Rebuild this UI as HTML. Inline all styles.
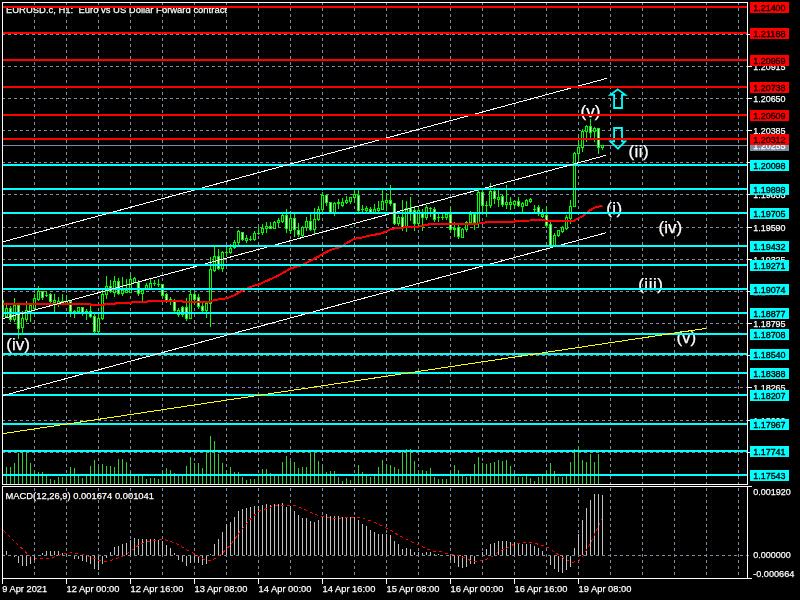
<!DOCTYPE html><html><head><meta charset="utf-8"><title>EURUSD.c H1</title>
<style>html,body{margin:0;padding:0;background:#000;overflow:hidden}svg{display:block;will-change:transform;transform:translateZ(0)}text{font-family:"Liberation Sans",sans-serif}</style></head><body>
<svg width="800" height="600" viewBox="0 0 800 600">
<rect x="0" y="0" width="800" height="600" fill="#000"/>
<defs><clipPath id="cm"><rect x="3" y="3" width="744" height="481"/></clipPath><clipPath id="ci"><rect x="3" y="487" width="744" height="91"/></clipPath></defs>
<g stroke="#7c8da0" stroke-width="1" stroke-dasharray="3 3" fill="none" shape-rendering="crispEdges">
<line x1="34.5" y1="2" x2="34.5" y2="484"/>
<line x1="34.5" y1="488" x2="34.5" y2="578"/>
<line x1="66.5" y1="2" x2="66.5" y2="484"/>
<line x1="66.5" y1="488" x2="66.5" y2="578"/>
<line x1="98.5" y1="2" x2="98.5" y2="484"/>
<line x1="98.5" y1="488" x2="98.5" y2="578"/>
<line x1="130.5" y1="2" x2="130.5" y2="484"/>
<line x1="130.5" y1="488" x2="130.5" y2="578"/>
<line x1="162.5" y1="2" x2="162.5" y2="484"/>
<line x1="162.5" y1="488" x2="162.5" y2="578"/>
<line x1="194.5" y1="2" x2="194.5" y2="484"/>
<line x1="194.5" y1="488" x2="194.5" y2="578"/>
<line x1="226.5" y1="2" x2="226.5" y2="484"/>
<line x1="226.5" y1="488" x2="226.5" y2="578"/>
<line x1="258.5" y1="2" x2="258.5" y2="484"/>
<line x1="258.5" y1="488" x2="258.5" y2="578"/>
<line x1="290.5" y1="2" x2="290.5" y2="484"/>
<line x1="290.5" y1="488" x2="290.5" y2="578"/>
<line x1="322.5" y1="2" x2="322.5" y2="484"/>
<line x1="322.5" y1="488" x2="322.5" y2="578"/>
<line x1="354.5" y1="2" x2="354.5" y2="484"/>
<line x1="354.5" y1="488" x2="354.5" y2="578"/>
<line x1="386.5" y1="2" x2="386.5" y2="484"/>
<line x1="386.5" y1="488" x2="386.5" y2="578"/>
<line x1="418.5" y1="2" x2="418.5" y2="484"/>
<line x1="418.5" y1="488" x2="418.5" y2="578"/>
<line x1="450.5" y1="2" x2="450.5" y2="484"/>
<line x1="450.5" y1="488" x2="450.5" y2="578"/>
<line x1="482.5" y1="2" x2="482.5" y2="484"/>
<line x1="482.5" y1="488" x2="482.5" y2="578"/>
<line x1="514.5" y1="2" x2="514.5" y2="484"/>
<line x1="514.5" y1="488" x2="514.5" y2="578"/>
<line x1="546.5" y1="2" x2="546.5" y2="484"/>
<line x1="546.5" y1="488" x2="546.5" y2="578"/>
<line x1="578.5" y1="2" x2="578.5" y2="484"/>
<line x1="578.5" y1="488" x2="578.5" y2="578"/>
<line x1="610.5" y1="2" x2="610.5" y2="484"/>
<line x1="610.5" y1="488" x2="610.5" y2="578"/>
<line x1="642.5" y1="2" x2="642.5" y2="484"/>
<line x1="642.5" y1="488" x2="642.5" y2="578"/>
<line x1="674.5" y1="2" x2="674.5" y2="484"/>
<line x1="674.5" y1="488" x2="674.5" y2="578"/>
<line x1="706.5" y1="2" x2="706.5" y2="484"/>
<line x1="706.5" y1="488" x2="706.5" y2="578"/>
<line x1="738.5" y1="2" x2="738.5" y2="484"/>
<line x1="738.5" y1="488" x2="738.5" y2="578"/>
<line x1="2" y1="34.5" x2="747" y2="34.5"/>
<line x1="2" y1="66.5" x2="747" y2="66.5"/>
<line x1="2" y1="98.5" x2="747" y2="98.5"/>
<line x1="2" y1="130.5" x2="747" y2="130.5"/>
<line x1="2" y1="162.5" x2="747" y2="162.5"/>
<line x1="2" y1="194.5" x2="747" y2="194.5"/>
<line x1="2" y1="227.5" x2="747" y2="227.5"/>
<line x1="2" y1="259.5" x2="747" y2="259.5"/>
<line x1="2" y1="291.5" x2="747" y2="291.5"/>
<line x1="2" y1="323.5" x2="747" y2="323.5"/>
<line x1="2" y1="355.5" x2="747" y2="355.5"/>
<line x1="2" y1="387.5" x2="747" y2="387.5"/>
<line x1="2" y1="420.5" x2="747" y2="420.5"/>
<line x1="2" y1="452.5" x2="747" y2="452.5"/>
<line x1="2" y1="555.5" x2="751" y2="555.5"/>
</g>
<text x="6" y="13" font-size="9.9" fill="#fff" stroke="#fff" stroke-width="0.25" textLength="221" lengthAdjust="spacingAndGlyphs" xml:space="preserve">EURUSD.c, H1:  Euro vs US Dollar Forward contract</text>
<rect x="3" y="145" width="744" height="1" fill="#7c8da0" shape-rendering="crispEdges"/>
<g fill="#32cd32" shape-rendering="crispEdges" clip-path="url(#cm)">
<rect x="6" y="467" width="1" height="17"/>
<rect x="10" y="467" width="1" height="17"/>
<rect x="14" y="463" width="1" height="21"/>
<rect x="18" y="453" width="1" height="31"/>
<rect x="22" y="452" width="1" height="32"/>
<rect x="26" y="452" width="1" height="32"/>
<rect x="30" y="463" width="1" height="21"/>
<rect x="34" y="470" width="1" height="14"/>
<rect x="38" y="472" width="1" height="12"/>
<rect x="42" y="472" width="1" height="12"/>
<rect x="46" y="476" width="1" height="8"/>
<rect x="50" y="479" width="1" height="5"/>
<rect x="54" y="480" width="1" height="4"/>
<rect x="58" y="477" width="1" height="7"/>
<rect x="62" y="477" width="1" height="7"/>
<rect x="66" y="476" width="1" height="8"/>
<rect x="70" y="467" width="1" height="17"/>
<rect x="74" y="468" width="1" height="16"/>
<rect x="78" y="476" width="1" height="8"/>
<rect x="82" y="478" width="1" height="6"/>
<rect x="86" y="476" width="1" height="8"/>
<rect x="90" y="466" width="1" height="18"/>
<rect x="94" y="460" width="1" height="24"/>
<rect x="98" y="467" width="1" height="17"/>
<rect x="102" y="464" width="1" height="20"/>
<rect x="106" y="466" width="1" height="18"/>
<rect x="110" y="466" width="1" height="18"/>
<rect x="114" y="467" width="1" height="17"/>
<rect x="118" y="459" width="1" height="25"/>
<rect x="122" y="459" width="1" height="25"/>
<rect x="126" y="462" width="1" height="22"/>
<rect x="130" y="472" width="1" height="12"/>
<rect x="134" y="476" width="1" height="8"/>
<rect x="138" y="476" width="1" height="8"/>
<rect x="142" y="476" width="1" height="8"/>
<rect x="146" y="479" width="1" height="5"/>
<rect x="150" y="478" width="1" height="6"/>
<rect x="154" y="478" width="1" height="6"/>
<rect x="158" y="479" width="1" height="5"/>
<rect x="162" y="471" width="1" height="13"/>
<rect x="166" y="468" width="1" height="16"/>
<rect x="170" y="470" width="1" height="14"/>
<rect x="174" y="473" width="1" height="11"/>
<rect x="178" y="476" width="1" height="8"/>
<rect x="182" y="476" width="1" height="8"/>
<rect x="186" y="466" width="1" height="18"/>
<rect x="190" y="457" width="1" height="27"/>
<rect x="194" y="463" width="1" height="21"/>
<rect x="198" y="463" width="1" height="21"/>
<rect x="202" y="468" width="1" height="16"/>
<rect x="206" y="452" width="1" height="32"/>
<rect x="210" y="436" width="1" height="48"/>
<rect x="214" y="441" width="1" height="43"/>
<rect x="218" y="454" width="1" height="30"/>
<rect x="222" y="463" width="1" height="21"/>
<rect x="226" y="470" width="1" height="14"/>
<rect x="230" y="467" width="1" height="17"/>
<rect x="234" y="472" width="1" height="12"/>
<rect x="238" y="472" width="1" height="12"/>
<rect x="242" y="477" width="1" height="7"/>
<rect x="246" y="480" width="1" height="4"/>
<rect x="250" y="479" width="1" height="5"/>
<rect x="254" y="479" width="1" height="5"/>
<rect x="258" y="476" width="1" height="8"/>
<rect x="262" y="469" width="1" height="15"/>
<rect x="266" y="469" width="1" height="15"/>
<rect x="270" y="473" width="1" height="11"/>
<rect x="274" y="476" width="1" height="8"/>
<rect x="278" y="476" width="1" height="8"/>
<rect x="282" y="462" width="1" height="22"/>
<rect x="286" y="456" width="1" height="28"/>
<rect x="290" y="461" width="1" height="23"/>
<rect x="294" y="462" width="1" height="22"/>
<rect x="298" y="468" width="1" height="16"/>
<rect x="302" y="467" width="1" height="17"/>
<rect x="306" y="467" width="1" height="17"/>
<rect x="310" y="453" width="1" height="31"/>
<rect x="314" y="452" width="1" height="32"/>
<rect x="318" y="461" width="1" height="23"/>
<rect x="322" y="467" width="1" height="17"/>
<rect x="326" y="472" width="1" height="12"/>
<rect x="330" y="471" width="1" height="13"/>
<rect x="334" y="471" width="1" height="13"/>
<rect x="338" y="477" width="1" height="7"/>
<rect x="342" y="481" width="1" height="3"/>
<rect x="346" y="478" width="1" height="6"/>
<rect x="350" y="480" width="1" height="4"/>
<rect x="354" y="476" width="1" height="8"/>
<rect x="358" y="465" width="1" height="19"/>
<rect x="362" y="472" width="1" height="12"/>
<rect x="366" y="476" width="1" height="8"/>
<rect x="370" y="477" width="1" height="7"/>
<rect x="374" y="476" width="1" height="8"/>
<rect x="378" y="467" width="1" height="17"/>
<rect x="382" y="460" width="1" height="24"/>
<rect x="386" y="465" width="1" height="19"/>
<rect x="390" y="465" width="1" height="19"/>
<rect x="394" y="467" width="1" height="17"/>
<rect x="398" y="469" width="1" height="15"/>
<rect x="402" y="452" width="1" height="32"/>
<rect x="406" y="449" width="1" height="35"/>
<rect x="410" y="449" width="1" height="35"/>
<rect x="414" y="461" width="1" height="23"/>
<rect x="418" y="471" width="1" height="13"/>
<rect x="422" y="470" width="1" height="14"/>
<rect x="426" y="471" width="1" height="13"/>
<rect x="430" y="468" width="1" height="16"/>
<rect x="434" y="477" width="1" height="7"/>
<rect x="438" y="479" width="1" height="5"/>
<rect x="442" y="479" width="1" height="5"/>
<rect x="446" y="479" width="1" height="5"/>
<rect x="450" y="472" width="1" height="12"/>
<rect x="454" y="465" width="1" height="19"/>
<rect x="458" y="470" width="1" height="14"/>
<rect x="462" y="476" width="1" height="8"/>
<rect x="466" y="477" width="1" height="7"/>
<rect x="470" y="476" width="1" height="8"/>
<rect x="474" y="464" width="1" height="20"/>
<rect x="478" y="457" width="1" height="27"/>
<rect x="482" y="463" width="1" height="21"/>
<rect x="486" y="464" width="1" height="20"/>
<rect x="490" y="463" width="1" height="21"/>
<rect x="494" y="462" width="1" height="22"/>
<rect x="498" y="460" width="1" height="24"/>
<rect x="502" y="461" width="1" height="23"/>
<rect x="506" y="460" width="1" height="24"/>
<rect x="510" y="466" width="1" height="18"/>
<rect x="514" y="473" width="1" height="11"/>
<rect x="518" y="477" width="1" height="7"/>
<rect x="522" y="477" width="1" height="7"/>
<rect x="526" y="476" width="1" height="8"/>
<rect x="530" y="478" width="1" height="6"/>
<rect x="534" y="481" width="1" height="3"/>
<rect x="538" y="477" width="1" height="7"/>
<rect x="542" y="476" width="1" height="8"/>
<rect x="546" y="471" width="1" height="13"/>
<rect x="550" y="463" width="1" height="21"/>
<rect x="554" y="471" width="1" height="13"/>
<rect x="558" y="477" width="1" height="7"/>
<rect x="562" y="477" width="1" height="7"/>
<rect x="566" y="476" width="1" height="8"/>
<rect x="570" y="462" width="1" height="22"/>
<rect x="574" y="449" width="1" height="35"/>
<rect x="578" y="446" width="1" height="38"/>
<rect x="582" y="460" width="1" height="24"/>
<rect x="586" y="462" width="1" height="22"/>
<rect x="590" y="454" width="1" height="30"/>
<rect x="594" y="462" width="1" height="22"/>
<rect x="598" y="454" width="1" height="30"/>
<rect x="2" y="470" width="1" height="14"/>
</g>
<g shape-rendering="crispEdges" clip-path="url(#cm)">
<rect x="2" y="300" width="1" height="18" fill="#0f0"/>
<rect x="1" y="300" width="3" height="17" fill="#0f0"/>
<rect x="2" y="301" width="1" height="15" fill="#000"/>
<rect x="6" y="305" width="1" height="13" fill="#0f0"/>
<rect x="5" y="308" width="3" height="9" fill="#0f0"/>
<rect x="6" y="309" width="1" height="7" fill="#000"/>
<rect x="10" y="306" width="1" height="16" fill="#0f0"/>
<rect x="9" y="308" width="3" height="12" fill="#0f0"/>
<rect x="10" y="309" width="1" height="10" fill="#fff"/>
<rect x="14" y="298" width="1" height="24" fill="#0f0"/>
<rect x="13" y="305" width="3" height="15" fill="#0f0"/>
<rect x="14" y="306" width="1" height="13" fill="#000"/>
<rect x="18" y="304" width="1" height="35" fill="#0f0"/>
<rect x="17" y="305" width="3" height="24" fill="#0f0"/>
<rect x="18" y="306" width="1" height="22" fill="#fff"/>
<rect x="22" y="311" width="1" height="23" fill="#0f0"/>
<rect x="21" y="318" width="3" height="10" fill="#0f0"/>
<rect x="22" y="319" width="1" height="8" fill="#000"/>
<rect x="26" y="301" width="1" height="21" fill="#0f0"/>
<rect x="25" y="310" width="3" height="10" fill="#0f0"/>
<rect x="26" y="311" width="1" height="8" fill="#000"/>
<rect x="30" y="305" width="1" height="17" fill="#0f0"/>
<rect x="29" y="305" width="3" height="7" fill="#0f0"/>
<rect x="30" y="306" width="1" height="5" fill="#000"/>
<rect x="34" y="294" width="1" height="16" fill="#0f0"/>
<rect x="33" y="298" width="3" height="11" fill="#0f0"/>
<rect x="34" y="299" width="1" height="9" fill="#000"/>
<rect x="38" y="286" width="1" height="15" fill="#0f0"/>
<rect x="37" y="291" width="3" height="9" fill="#0f0"/>
<rect x="38" y="292" width="1" height="7" fill="#000"/>
<rect x="42" y="291" width="1" height="9" fill="#0f0"/>
<rect x="41" y="291" width="3" height="7" fill="#0f0"/>
<rect x="42" y="292" width="1" height="5" fill="#fff"/>
<rect x="46" y="291" width="1" height="6" fill="#0f0"/>
<rect x="45" y="295" width="3" height="1" fill="#0f0"/>
<rect x="50" y="293" width="1" height="10" fill="#0f0"/>
<rect x="49" y="294" width="3" height="8" fill="#0f0"/>
<rect x="50" y="295" width="1" height="6" fill="#fff"/>
<rect x="54" y="294" width="1" height="19" fill="#0f0"/>
<rect x="53" y="300" width="3" height="3" fill="#0f0"/>
<rect x="54" y="301" width="1" height="1" fill="#000"/>
<rect x="58" y="297" width="1" height="10" fill="#0f0"/>
<rect x="57" y="301" width="3" height="3" fill="#0f0"/>
<rect x="58" y="302" width="1" height="1" fill="#000"/>
<rect x="62" y="294" width="1" height="10" fill="#0f0"/>
<rect x="61" y="301" width="3" height="3" fill="#0f0"/>
<rect x="62" y="302" width="1" height="1" fill="#fff"/>
<rect x="66" y="295" width="1" height="9" fill="#0f0"/>
<rect x="65" y="301" width="3" height="3" fill="#0f0"/>
<rect x="66" y="302" width="1" height="1" fill="#000"/>
<rect x="70" y="300" width="1" height="17" fill="#0f0"/>
<rect x="69" y="301" width="3" height="11" fill="#0f0"/>
<rect x="70" y="302" width="1" height="9" fill="#fff"/>
<rect x="74" y="310" width="1" height="8" fill="#0f0"/>
<rect x="73" y="311" width="3" height="2" fill="#0f0"/>
<rect x="78" y="307" width="1" height="7" fill="#0f0"/>
<rect x="77" y="307" width="3" height="5" fill="#0f0"/>
<rect x="78" y="308" width="1" height="3" fill="#000"/>
<rect x="82" y="307" width="1" height="9" fill="#0f0"/>
<rect x="81" y="307" width="3" height="6" fill="#0f0"/>
<rect x="82" y="308" width="1" height="4" fill="#fff"/>
<rect x="86" y="309" width="1" height="11" fill="#0f0"/>
<rect x="85" y="311" width="3" height="2" fill="#0f0"/>
<rect x="90" y="305" width="1" height="13" fill="#0f0"/>
<rect x="89" y="311" width="3" height="6" fill="#0f0"/>
<rect x="90" y="312" width="1" height="4" fill="#fff"/>
<rect x="94" y="314" width="1" height="20" fill="#0f0"/>
<rect x="93" y="316" width="3" height="16" fill="#0f0"/>
<rect x="94" y="317" width="1" height="14" fill="#fff"/>
<rect x="98" y="314" width="1" height="20" fill="#0f0"/>
<rect x="97" y="318" width="3" height="14" fill="#0f0"/>
<rect x="98" y="319" width="1" height="12" fill="#000"/>
<rect x="102" y="290" width="1" height="30" fill="#0f0"/>
<rect x="101" y="294" width="3" height="25" fill="#0f0"/>
<rect x="102" y="295" width="1" height="23" fill="#000"/>
<rect x="106" y="276" width="1" height="23" fill="#0f0"/>
<rect x="105" y="286" width="3" height="9" fill="#0f0"/>
<rect x="106" y="287" width="1" height="7" fill="#000"/>
<rect x="110" y="280" width="1" height="13" fill="#0f0"/>
<rect x="109" y="286" width="3" height="6" fill="#0f0"/>
<rect x="110" y="287" width="1" height="4" fill="#fff"/>
<rect x="114" y="276" width="1" height="21" fill="#0f0"/>
<rect x="113" y="281" width="3" height="12" fill="#0f0"/>
<rect x="114" y="282" width="1" height="10" fill="#000"/>
<rect x="118" y="278" width="1" height="17" fill="#0f0"/>
<rect x="117" y="281" width="3" height="13" fill="#0f0"/>
<rect x="118" y="282" width="1" height="11" fill="#fff"/>
<rect x="122" y="277" width="1" height="19" fill="#0f0"/>
<rect x="121" y="290" width="3" height="4" fill="#0f0"/>
<rect x="122" y="291" width="1" height="2" fill="#000"/>
<rect x="126" y="279" width="1" height="14" fill="#0f0"/>
<rect x="125" y="290" width="3" height="3" fill="#0f0"/>
<rect x="126" y="291" width="1" height="1" fill="#000"/>
<rect x="130" y="275" width="1" height="18" fill="#0f0"/>
<rect x="129" y="279" width="3" height="14" fill="#0f0"/>
<rect x="130" y="280" width="1" height="12" fill="#000"/>
<rect x="134" y="277" width="1" height="6" fill="#0f0"/>
<rect x="133" y="278" width="3" height="5" fill="#0f0"/>
<rect x="134" y="279" width="1" height="3" fill="#000"/>
<rect x="138" y="280" width="1" height="16" fill="#0f0"/>
<rect x="137" y="282" width="3" height="12" fill="#0f0"/>
<rect x="138" y="283" width="1" height="10" fill="#fff"/>
<rect x="142" y="290" width="1" height="11" fill="#0f0"/>
<rect x="141" y="290" width="3" height="4" fill="#0f0"/>
<rect x="142" y="291" width="1" height="2" fill="#000"/>
<rect x="146" y="283" width="1" height="6" fill="#0f0"/>
<rect x="145" y="285" width="3" height="4" fill="#0f0"/>
<rect x="146" y="286" width="1" height="2" fill="#000"/>
<rect x="150" y="279" width="1" height="10" fill="#0f0"/>
<rect x="149" y="283" width="3" height="6" fill="#0f0"/>
<rect x="150" y="284" width="1" height="4" fill="#000"/>
<rect x="154" y="280" width="1" height="6" fill="#0f0"/>
<rect x="153" y="283" width="3" height="1" fill="#0f0"/>
<rect x="158" y="279" width="1" height="8" fill="#0f0"/>
<rect x="157" y="284" width="3" height="1" fill="#0f0"/>
<rect x="162" y="284" width="1" height="14" fill="#0f0"/>
<rect x="161" y="284" width="3" height="12" fill="#0f0"/>
<rect x="162" y="285" width="1" height="10" fill="#fff"/>
<rect x="166" y="293" width="1" height="10" fill="#0f0"/>
<rect x="165" y="294" width="3" height="7" fill="#0f0"/>
<rect x="166" y="295" width="1" height="5" fill="#fff"/>
<rect x="170" y="297" width="1" height="8" fill="#0f0"/>
<rect x="169" y="299" width="3" height="1" fill="#0f0"/>
<rect x="174" y="299" width="1" height="13" fill="#0f0"/>
<rect x="173" y="301" width="3" height="10" fill="#0f0"/>
<rect x="174" y="302" width="1" height="8" fill="#fff"/>
<rect x="178" y="308" width="1" height="9" fill="#0f0"/>
<rect x="177" y="310" width="3" height="5" fill="#0f0"/>
<rect x="178" y="311" width="1" height="3" fill="#000"/>
<rect x="182" y="306" width="1" height="11" fill="#0f0"/>
<rect x="181" y="307" width="3" height="8" fill="#0f0"/>
<rect x="182" y="308" width="1" height="6" fill="#fff"/>
<rect x="186" y="298" width="1" height="23" fill="#0f0"/>
<rect x="185" y="307" width="3" height="12" fill="#0f0"/>
<rect x="186" y="308" width="1" height="10" fill="#fff"/>
<rect x="190" y="290" width="1" height="29" fill="#0f0"/>
<rect x="189" y="294" width="3" height="25" fill="#0f0"/>
<rect x="190" y="295" width="1" height="23" fill="#000"/>
<rect x="194" y="292" width="1" height="13" fill="#0f0"/>
<rect x="193" y="294" width="3" height="6" fill="#0f0"/>
<rect x="194" y="295" width="1" height="4" fill="#fff"/>
<rect x="198" y="294" width="1" height="15" fill="#0f0"/>
<rect x="197" y="297" width="3" height="10" fill="#0f0"/>
<rect x="198" y="298" width="1" height="8" fill="#fff"/>
<rect x="202" y="303" width="1" height="10" fill="#0f0"/>
<rect x="201" y="306" width="3" height="5" fill="#0f0"/>
<rect x="202" y="307" width="1" height="3" fill="#fff"/>
<rect x="206" y="301" width="1" height="17" fill="#0f0"/>
<rect x="205" y="303" width="3" height="8" fill="#0f0"/>
<rect x="206" y="304" width="1" height="6" fill="#000"/>
<rect x="210" y="257" width="1" height="70" fill="#0f0"/>
<rect x="209" y="269" width="3" height="35" fill="#0f0"/>
<rect x="210" y="270" width="1" height="33" fill="#000"/>
<rect x="214" y="247" width="1" height="25" fill="#0f0"/>
<rect x="213" y="256" width="3" height="15" fill="#0f0"/>
<rect x="214" y="257" width="1" height="13" fill="#000"/>
<rect x="218" y="249" width="1" height="21" fill="#0f0"/>
<rect x="217" y="256" width="3" height="13" fill="#0f0"/>
<rect x="218" y="257" width="1" height="11" fill="#fff"/>
<rect x="222" y="251" width="1" height="21" fill="#0f0"/>
<rect x="221" y="252" width="3" height="17" fill="#0f0"/>
<rect x="222" y="253" width="1" height="15" fill="#000"/>
<rect x="226" y="245" width="1" height="12" fill="#0f0"/>
<rect x="225" y="252" width="3" height="1" fill="#0f0"/>
<rect x="230" y="244" width="1" height="10" fill="#0f0"/>
<rect x="229" y="248" width="3" height="5" fill="#0f0"/>
<rect x="230" y="249" width="1" height="3" fill="#000"/>
<rect x="234" y="240" width="1" height="9" fill="#0f0"/>
<rect x="233" y="242" width="3" height="6" fill="#0f0"/>
<rect x="234" y="243" width="1" height="4" fill="#000"/>
<rect x="238" y="230" width="1" height="15" fill="#0f0"/>
<rect x="237" y="231" width="3" height="12" fill="#0f0"/>
<rect x="238" y="232" width="1" height="10" fill="#000"/>
<rect x="242" y="232" width="1" height="9" fill="#0f0"/>
<rect x="241" y="232" width="3" height="8" fill="#0f0"/>
<rect x="242" y="233" width="1" height="6" fill="#fff"/>
<rect x="246" y="235" width="1" height="8" fill="#0f0"/>
<rect x="245" y="238" width="3" height="3" fill="#0f0"/>
<rect x="246" y="239" width="1" height="1" fill="#000"/>
<rect x="250" y="236" width="1" height="5" fill="#0f0"/>
<rect x="249" y="239" width="3" height="1" fill="#0f0"/>
<rect x="254" y="231" width="1" height="10" fill="#0f0"/>
<rect x="253" y="233" width="3" height="7" fill="#0f0"/>
<rect x="254" y="234" width="1" height="5" fill="#000"/>
<rect x="258" y="227" width="1" height="8" fill="#0f0"/>
<rect x="257" y="233" width="3" height="1" fill="#0f0"/>
<rect x="262" y="224" width="1" height="11" fill="#0f0"/>
<rect x="261" y="228" width="3" height="5" fill="#0f0"/>
<rect x="262" y="229" width="1" height="3" fill="#000"/>
<rect x="266" y="222" width="1" height="11" fill="#0f0"/>
<rect x="265" y="226" width="3" height="3" fill="#0f0"/>
<rect x="266" y="227" width="1" height="1" fill="#000"/>
<rect x="270" y="222" width="1" height="7" fill="#0f0"/>
<rect x="269" y="226" width="3" height="3" fill="#0f0"/>
<rect x="270" y="227" width="1" height="1" fill="#fff"/>
<rect x="274" y="221" width="1" height="8" fill="#0f0"/>
<rect x="273" y="222" width="3" height="7" fill="#0f0"/>
<rect x="274" y="223" width="1" height="5" fill="#000"/>
<rect x="278" y="218" width="1" height="9" fill="#0f0"/>
<rect x="277" y="220" width="3" height="3" fill="#0f0"/>
<rect x="278" y="221" width="1" height="1" fill="#000"/>
<rect x="282" y="214" width="1" height="9" fill="#0f0"/>
<rect x="281" y="215" width="3" height="7" fill="#0f0"/>
<rect x="282" y="216" width="1" height="5" fill="#000"/>
<rect x="286" y="209" width="1" height="24" fill="#0f0"/>
<rect x="285" y="215" width="3" height="14" fill="#0f0"/>
<rect x="286" y="216" width="1" height="12" fill="#fff"/>
<rect x="290" y="211" width="1" height="23" fill="#0f0"/>
<rect x="289" y="218" width="3" height="13" fill="#0f0"/>
<rect x="290" y="219" width="1" height="11" fill="#000"/>
<rect x="294" y="214" width="1" height="23" fill="#0f0"/>
<rect x="293" y="218" width="3" height="12" fill="#0f0"/>
<rect x="294" y="219" width="1" height="10" fill="#fff"/>
<rect x="298" y="223" width="1" height="14" fill="#0f0"/>
<rect x="297" y="230" width="3" height="5" fill="#0f0"/>
<rect x="298" y="231" width="1" height="3" fill="#fff"/>
<rect x="302" y="226" width="1" height="11" fill="#0f0"/>
<rect x="301" y="227" width="3" height="9" fill="#0f0"/>
<rect x="302" y="228" width="1" height="7" fill="#000"/>
<rect x="306" y="217" width="1" height="14" fill="#0f0"/>
<rect x="305" y="221" width="3" height="7" fill="#0f0"/>
<rect x="306" y="222" width="1" height="5" fill="#000"/>
<rect x="310" y="214" width="1" height="17" fill="#0f0"/>
<rect x="309" y="221" width="3" height="9" fill="#0f0"/>
<rect x="310" y="222" width="1" height="7" fill="#fff"/>
<rect x="314" y="208" width="1" height="27" fill="#0f0"/>
<rect x="313" y="219" width="3" height="11" fill="#0f0"/>
<rect x="314" y="220" width="1" height="9" fill="#000"/>
<rect x="318" y="206" width="1" height="15" fill="#0f0"/>
<rect x="317" y="209" width="3" height="11" fill="#0f0"/>
<rect x="318" y="210" width="1" height="9" fill="#000"/>
<rect x="322" y="192" width="1" height="20" fill="#0f0"/>
<rect x="321" y="195" width="3" height="15" fill="#0f0"/>
<rect x="322" y="196" width="1" height="13" fill="#000"/>
<rect x="326" y="195" width="1" height="11" fill="#0f0"/>
<rect x="325" y="195" width="3" height="8" fill="#0f0"/>
<rect x="326" y="196" width="1" height="6" fill="#fff"/>
<rect x="330" y="202" width="1" height="11" fill="#0f0"/>
<rect x="329" y="202" width="3" height="11" fill="#0f0"/>
<rect x="330" y="203" width="1" height="9" fill="#fff"/>
<rect x="334" y="202" width="1" height="14" fill="#0f0"/>
<rect x="333" y="203" width="3" height="10" fill="#0f0"/>
<rect x="334" y="204" width="1" height="8" fill="#000"/>
<rect x="338" y="199" width="1" height="10" fill="#0f0"/>
<rect x="337" y="202" width="3" height="2" fill="#0f0"/>
<rect x="342" y="198" width="1" height="9" fill="#0f0"/>
<rect x="341" y="202" width="3" height="4" fill="#0f0"/>
<rect x="342" y="203" width="1" height="2" fill="#000"/>
<rect x="346" y="196" width="1" height="8" fill="#0f0"/>
<rect x="345" y="200" width="3" height="3" fill="#0f0"/>
<rect x="346" y="201" width="1" height="1" fill="#000"/>
<rect x="350" y="197" width="1" height="7" fill="#0f0"/>
<rect x="349" y="197" width="3" height="5" fill="#0f0"/>
<rect x="350" y="198" width="1" height="3" fill="#000"/>
<rect x="354" y="190" width="1" height="12" fill="#0f0"/>
<rect x="353" y="194" width="3" height="4" fill="#0f0"/>
<rect x="354" y="195" width="1" height="2" fill="#000"/>
<rect x="358" y="190" width="1" height="23" fill="#0f0"/>
<rect x="357" y="195" width="3" height="16" fill="#0f0"/>
<rect x="358" y="196" width="1" height="14" fill="#fff"/>
<rect x="362" y="205" width="1" height="7" fill="#0f0"/>
<rect x="361" y="209" width="3" height="1" fill="#0f0"/>
<rect x="366" y="206" width="1" height="6" fill="#0f0"/>
<rect x="365" y="208" width="3" height="3" fill="#0f0"/>
<rect x="366" y="209" width="1" height="1" fill="#000"/>
<rect x="370" y="207" width="1" height="6" fill="#0f0"/>
<rect x="369" y="209" width="3" height="4" fill="#0f0"/>
<rect x="370" y="210" width="1" height="2" fill="#fff"/>
<rect x="374" y="204" width="1" height="9" fill="#0f0"/>
<rect x="373" y="209" width="3" height="4" fill="#0f0"/>
<rect x="374" y="210" width="1" height="2" fill="#000"/>
<rect x="378" y="201" width="1" height="11" fill="#0f0"/>
<rect x="377" y="208" width="3" height="3" fill="#0f0"/>
<rect x="378" y="209" width="1" height="1" fill="#000"/>
<rect x="382" y="190" width="1" height="20" fill="#0f0"/>
<rect x="381" y="201" width="3" height="9" fill="#0f0"/>
<rect x="382" y="202" width="1" height="7" fill="#000"/>
<rect x="386" y="193" width="1" height="18" fill="#0f0"/>
<rect x="385" y="200" width="3" height="3" fill="#0f0"/>
<rect x="386" y="201" width="1" height="1" fill="#000"/>
<rect x="390" y="185" width="1" height="21" fill="#0f0"/>
<rect x="389" y="200" width="3" height="4" fill="#0f0"/>
<rect x="390" y="201" width="1" height="2" fill="#fff"/>
<rect x="394" y="203" width="1" height="22" fill="#0f0"/>
<rect x="393" y="203" width="3" height="21" fill="#0f0"/>
<rect x="394" y="204" width="1" height="19" fill="#fff"/>
<rect x="398" y="215" width="1" height="11" fill="#0f0"/>
<rect x="397" y="217" width="3" height="7" fill="#0f0"/>
<rect x="398" y="218" width="1" height="5" fill="#000"/>
<rect x="402" y="200" width="1" height="31" fill="#0f0"/>
<rect x="401" y="217" width="3" height="11" fill="#0f0"/>
<rect x="402" y="218" width="1" height="9" fill="#fff"/>
<rect x="406" y="201" width="1" height="31" fill="#0f0"/>
<rect x="405" y="208" width="3" height="20" fill="#0f0"/>
<rect x="406" y="209" width="1" height="18" fill="#000"/>
<rect x="410" y="197" width="1" height="24" fill="#0f0"/>
<rect x="409" y="208" width="3" height="5" fill="#0f0"/>
<rect x="410" y="209" width="1" height="3" fill="#fff"/>
<rect x="414" y="206" width="1" height="25" fill="#0f0"/>
<rect x="413" y="210" width="3" height="14" fill="#0f0"/>
<rect x="414" y="211" width="1" height="12" fill="#fff"/>
<rect x="418" y="207" width="1" height="20" fill="#0f0"/>
<rect x="417" y="210" width="3" height="14" fill="#0f0"/>
<rect x="418" y="211" width="1" height="12" fill="#000"/>
<rect x="422" y="209" width="1" height="22" fill="#0f0"/>
<rect x="421" y="212" width="3" height="6" fill="#0f0"/>
<rect x="422" y="213" width="1" height="4" fill="#fff"/>
<rect x="426" y="205" width="1" height="15" fill="#0f0"/>
<rect x="425" y="207" width="3" height="11" fill="#0f0"/>
<rect x="426" y="208" width="1" height="9" fill="#000"/>
<rect x="430" y="207" width="1" height="10" fill="#0f0"/>
<rect x="429" y="208" width="3" height="1" fill="#0f0"/>
<rect x="434" y="207" width="1" height="15" fill="#0f0"/>
<rect x="433" y="209" width="3" height="11" fill="#0f0"/>
<rect x="434" y="210" width="1" height="9" fill="#fff"/>
<rect x="438" y="214" width="1" height="8" fill="#0f0"/>
<rect x="437" y="217" width="3" height="1" fill="#0f0"/>
<rect x="442" y="214" width="1" height="6" fill="#0f0"/>
<rect x="441" y="217" width="3" height="1" fill="#0f0"/>
<rect x="446" y="213" width="1" height="7" fill="#0f0"/>
<rect x="445" y="214" width="3" height="4" fill="#0f0"/>
<rect x="446" y="215" width="1" height="2" fill="#000"/>
<rect x="450" y="207" width="1" height="25" fill="#0f0"/>
<rect x="449" y="214" width="3" height="16" fill="#0f0"/>
<rect x="450" y="215" width="1" height="14" fill="#fff"/>
<rect x="454" y="222" width="1" height="15" fill="#0f0"/>
<rect x="453" y="228" width="3" height="2" fill="#0f0"/>
<rect x="458" y="225" width="1" height="14" fill="#0f0"/>
<rect x="457" y="227" width="3" height="10" fill="#0f0"/>
<rect x="458" y="228" width="1" height="8" fill="#fff"/>
<rect x="462" y="228" width="1" height="10" fill="#0f0"/>
<rect x="461" y="229" width="3" height="9" fill="#0f0"/>
<rect x="462" y="230" width="1" height="7" fill="#000"/>
<rect x="466" y="221" width="1" height="11" fill="#0f0"/>
<rect x="465" y="222" width="3" height="8" fill="#0f0"/>
<rect x="466" y="223" width="1" height="6" fill="#000"/>
<rect x="470" y="211" width="1" height="13" fill="#0f0"/>
<rect x="469" y="214" width="3" height="9" fill="#0f0"/>
<rect x="470" y="215" width="1" height="7" fill="#000"/>
<rect x="474" y="213" width="1" height="17" fill="#0f0"/>
<rect x="473" y="214" width="3" height="9" fill="#0f0"/>
<rect x="474" y="215" width="1" height="7" fill="#fff"/>
<rect x="478" y="190" width="1" height="37" fill="#0f0"/>
<rect x="477" y="192" width="3" height="32" fill="#0f0"/>
<rect x="478" y="193" width="1" height="30" fill="#000"/>
<rect x="482" y="190" width="1" height="22" fill="#0f0"/>
<rect x="481" y="192" width="3" height="14" fill="#0f0"/>
<rect x="482" y="193" width="1" height="12" fill="#fff"/>
<rect x="486" y="201" width="1" height="16" fill="#0f0"/>
<rect x="485" y="205" width="3" height="1" fill="#0f0"/>
<rect x="490" y="183" width="1" height="25" fill="#0f0"/>
<rect x="489" y="191" width="3" height="15" fill="#0f0"/>
<rect x="490" y="192" width="1" height="13" fill="#000"/>
<rect x="494" y="187" width="1" height="17" fill="#0f0"/>
<rect x="493" y="191" width="3" height="8" fill="#0f0"/>
<rect x="494" y="192" width="1" height="6" fill="#fff"/>
<rect x="498" y="190" width="1" height="17" fill="#0f0"/>
<rect x="497" y="197" width="3" height="3" fill="#0f0"/>
<rect x="498" y="198" width="1" height="1" fill="#000"/>
<rect x="502" y="194" width="1" height="13" fill="#0f0"/>
<rect x="501" y="196" width="3" height="9" fill="#0f0"/>
<rect x="502" y="197" width="1" height="7" fill="#fff"/>
<rect x="506" y="185" width="1" height="24" fill="#0f0"/>
<rect x="505" y="202" width="3" height="3" fill="#0f0"/>
<rect x="506" y="203" width="1" height="1" fill="#000"/>
<rect x="510" y="197" width="1" height="13" fill="#0f0"/>
<rect x="509" y="202" width="3" height="3" fill="#0f0"/>
<rect x="510" y="203" width="1" height="1" fill="#000"/>
<rect x="514" y="200" width="1" height="9" fill="#0f0"/>
<rect x="513" y="201" width="3" height="4" fill="#0f0"/>
<rect x="514" y="202" width="1" height="2" fill="#000"/>
<rect x="518" y="197" width="1" height="10" fill="#0f0"/>
<rect x="517" y="201" width="3" height="5" fill="#0f0"/>
<rect x="518" y="202" width="1" height="3" fill="#fff"/>
<rect x="522" y="202" width="1" height="11" fill="#0f0"/>
<rect x="521" y="203" width="3" height="4" fill="#0f0"/>
<rect x="522" y="204" width="1" height="2" fill="#000"/>
<rect x="526" y="199" width="1" height="7" fill="#0f0"/>
<rect x="525" y="200" width="3" height="6" fill="#0f0"/>
<rect x="526" y="201" width="1" height="4" fill="#000"/>
<rect x="530" y="198" width="1" height="5" fill="#0f0"/>
<rect x="529" y="199" width="3" height="3" fill="#0f0"/>
<rect x="530" y="200" width="1" height="1" fill="#000"/>
<rect x="534" y="205" width="1" height="7" fill="#0f0"/>
<rect x="533" y="209" width="3" height="1" fill="#0f0"/>
<rect x="538" y="205" width="1" height="11" fill="#0f0"/>
<rect x="537" y="207" width="3" height="6" fill="#0f0"/>
<rect x="538" y="208" width="1" height="4" fill="#fff"/>
<rect x="542" y="209" width="1" height="9" fill="#0f0"/>
<rect x="541" y="214" width="3" height="3" fill="#0f0"/>
<rect x="542" y="215" width="1" height="1" fill="#000"/>
<rect x="546" y="206" width="1" height="22" fill="#0f0"/>
<rect x="545" y="215" width="3" height="11" fill="#0f0"/>
<rect x="546" y="216" width="1" height="9" fill="#fff"/>
<rect x="550" y="222" width="1" height="25" fill="#0f0"/>
<rect x="549" y="224" width="3" height="22" fill="#0f0"/>
<rect x="550" y="225" width="1" height="20" fill="#fff"/>
<rect x="554" y="233" width="1" height="13" fill="#0f0"/>
<rect x="553" y="235" width="3" height="11" fill="#0f0"/>
<rect x="554" y="236" width="1" height="9" fill="#000"/>
<rect x="558" y="230" width="1" height="7" fill="#0f0"/>
<rect x="557" y="230" width="3" height="6" fill="#0f0"/>
<rect x="558" y="231" width="1" height="4" fill="#000"/>
<rect x="562" y="226" width="1" height="7" fill="#0f0"/>
<rect x="561" y="227" width="3" height="5" fill="#0f0"/>
<rect x="562" y="228" width="1" height="3" fill="#000"/>
<rect x="566" y="215" width="1" height="15" fill="#0f0"/>
<rect x="565" y="217" width="3" height="12" fill="#0f0"/>
<rect x="566" y="218" width="1" height="10" fill="#000"/>
<rect x="570" y="200" width="1" height="24" fill="#0f0"/>
<rect x="569" y="206" width="3" height="13" fill="#0f0"/>
<rect x="570" y="207" width="1" height="11" fill="#000"/>
<rect x="574" y="152" width="1" height="55" fill="#0f0"/>
<rect x="573" y="153" width="3" height="54" fill="#0f0"/>
<rect x="574" y="154" width="1" height="52" fill="#000"/>
<rect x="578" y="137" width="1" height="26" fill="#0f0"/>
<rect x="577" y="147" width="3" height="7" fill="#0f0"/>
<rect x="578" y="148" width="1" height="5" fill="#000"/>
<rect x="582" y="129" width="1" height="23" fill="#0f0"/>
<rect x="581" y="131" width="3" height="17" fill="#0f0"/>
<rect x="582" y="132" width="1" height="15" fill="#000"/>
<rect x="586" y="125" width="1" height="17" fill="#0f0"/>
<rect x="585" y="126" width="3" height="6" fill="#0f0"/>
<rect x="586" y="127" width="1" height="4" fill="#000"/>
<rect x="590" y="119" width="1" height="20" fill="#0f0"/>
<rect x="589" y="126" width="3" height="7" fill="#0f0"/>
<rect x="590" y="127" width="1" height="5" fill="#fff"/>
<rect x="594" y="127" width="1" height="15" fill="#0f0"/>
<rect x="593" y="128" width="3" height="4" fill="#0f0"/>
<rect x="594" y="129" width="1" height="2" fill="#000"/>
<rect x="598" y="128" width="1" height="26" fill="#0f0"/>
<rect x="597" y="128" width="3" height="20" fill="#0f0"/>
<rect x="598" y="129" width="1" height="18" fill="#fff"/>
<rect x="602" y="145" width="1" height="5" fill="#0f0"/>
<rect x="601" y="145" width="3" height="3" fill="#0f0"/>
<rect x="602" y="146" width="1" height="1" fill="#000"/>
</g>
<polyline points="3,304 90,304 90.5,305 104,305 104.5,304 115,304 115.5,303 131,303 131.5,302 147,302 147.5,301 182.5,301 183,302 210,302 214.7,299.8 222.7,299.1 228,297.8 234.8,295.1 240,291.8 245.5,289.1 252,286.4 258.8,284.4 265.5,281.4 272,278.4 277.5,276 283,273 289.6,268.8 295,267 303,264.8 316,257.8 330,250 340.8,246.9 346,243.5 354,238.9 362,237.5 370,235.5 381,233.5 386,231.5 391.6,228.8 399.6,227.8 407.6,227.2 415.4,227.2 426,225 431.4,223.9 479.5,223.5 482,222.8 491.6,221.9 514,221.8 515.4,220.9 530,220.5 531.4,219.8 544.8,219.8 546,220.9 574,220.9 578,218.4 583.5,215.8 589,211 594,207.8 602.5,205.7" fill="none" stroke="#f00" stroke-width="2" stroke-linejoin="round" shape-rendering="crispEdges"/>
<g fill="#fff" font-size="17" stroke="#fff" stroke-width="0.25">
<text x="6.3" y="350" letter-spacing="0">(iv)</text>
<text x="580.6" y="116.5" letter-spacing="0">(v)</text>
<text x="628.4" y="156.5" letter-spacing="0.5">(ii)</text>
<text x="606.3" y="213.6" letter-spacing="0.4">(i)</text>
<text x="658.6" y="232.6" letter-spacing="0">(iv)</text>
<text x="638.2" y="289.5" letter-spacing="0.5">(iii)</text>
<text x="676.4" y="343" letter-spacing="0">(v)</text>
</g>
<g fill="none" stroke="#0ff" stroke-width="1.8" stroke-linejoin="miter">
<path d="M617.8 89.4 L625.2 94.9 L622 94.9 L622 108 L614.1 108 L614.1 94.9 L610.4 94.9 Z"/>
<path d="M618 148.7 L625.2 141.3 L622 141.3 L622 128 L614.1 128 L614.1 141.3 L610.4 141.3 Z"/>
</g>
<g shape-rendering="crispEdges">
<rect x="3" y="164" width="744" height="2" fill="#0ff"/>
<rect x="3" y="212" width="744" height="2" fill="#0ff"/>
<rect x="3" y="288" width="744" height="2" fill="#0ff"/>
<rect x="3" y="312" width="744" height="2" fill="#0ff"/>
<rect x="3" y="333" width="744" height="2" fill="#0ff"/>
<rect x="3" y="353" width="744" height="2" fill="#0ff"/>
<rect x="3" y="372" width="744" height="2" fill="#0ff"/>
<rect x="3" y="394" width="744" height="2" fill="#0ff"/>
<rect x="3" y="423" width="744" height="2" fill="#0ff"/>
<rect x="3" y="450" width="744" height="2" fill="#0ff"/>
<rect x="3" y="474" width="744" height="2" fill="#0ff"/>
</g>
<g stroke-width="1" fill="none" stroke-linecap="butt" shape-rendering="crispEdges">
<line x1="3" y1="241.8" x2="607" y2="78.3" stroke="#fff"/>
<line x1="3" y1="318.6" x2="606" y2="155.3" stroke="#fff"/>
<line x1="3" y1="395.6" x2="606" y2="232.8" stroke="#fff"/>
<line x1="3" y1="433.6" x2="706" y2="328.4" stroke="#ff0"/>
</g>
<g shape-rendering="crispEdges">
<rect x="3" y="6" width="744" height="2" fill="#f00"/>
<rect x="3" y="32" width="744" height="2" fill="#f00"/>
<rect x="3" y="59" width="744" height="2" fill="#f00"/>
<rect x="3" y="86" width="744" height="2" fill="#f00"/>
<rect x="3" y="114" width="744" height="2" fill="#f00"/>
<rect x="3" y="138" width="744" height="2" fill="#f00"/>
<rect x="3" y="188" width="744" height="2" fill="#0ff"/>
<rect x="3" y="245" width="744" height="2" fill="#0ff"/>
<rect x="3" y="264" width="744" height="2" fill="#0ff"/>
</g>
<g fill="#c0c0c0" shape-rendering="crispEdges" clip-path="url(#ci)">
<rect x="6" y="551" width="1" height="4"/>
<rect x="14" y="556" width="1" height="1"/>
<rect x="18" y="556" width="1" height="7"/>
<rect x="22" y="556" width="1" height="10"/>
<rect x="26" y="556" width="1" height="10"/>
<rect x="30" y="556" width="1" height="8"/>
<rect x="34" y="556" width="1" height="4"/>
<rect x="42" y="553" width="1" height="2"/>
<rect x="46" y="551" width="1" height="4"/>
<rect x="50" y="551" width="1" height="4"/>
<rect x="54" y="551" width="1" height="4"/>
<rect x="58" y="551" width="1" height="4"/>
<rect x="62" y="553" width="1" height="2"/>
<rect x="66" y="553" width="1" height="2"/>
<rect x="74" y="556" width="1" height="3"/>
<rect x="78" y="556" width="1" height="3"/>
<rect x="82" y="556" width="1" height="5"/>
<rect x="86" y="556" width="1" height="6"/>
<rect x="90" y="556" width="1" height="8"/>
<rect x="94" y="556" width="1" height="13"/>
<rect x="98" y="556" width="1" height="14"/>
<rect x="102" y="556" width="1" height="8"/>
<rect x="106" y="556" width="1" height="2"/>
<rect x="110" y="552" width="1" height="3"/>
<rect x="114" y="547" width="1" height="8"/>
<rect x="118" y="546" width="1" height="9"/>
<rect x="122" y="544" width="1" height="11"/>
<rect x="126" y="543" width="1" height="12"/>
<rect x="130" y="540" width="1" height="15"/>
<rect x="134" y="538" width="1" height="17"/>
<rect x="138" y="539" width="1" height="16"/>
<rect x="142" y="539" width="1" height="16"/>
<rect x="146" y="539" width="1" height="16"/>
<rect x="150" y="539" width="1" height="16"/>
<rect x="154" y="539" width="1" height="16"/>
<rect x="158" y="540" width="1" height="15"/>
<rect x="162" y="541" width="1" height="14"/>
<rect x="166" y="545" width="1" height="10"/>
<rect x="170" y="548" width="1" height="7"/>
<rect x="174" y="553" width="1" height="2"/>
<rect x="178" y="556" width="1" height="4"/>
<rect x="182" y="556" width="1" height="6"/>
<rect x="186" y="556" width="1" height="10"/>
<rect x="190" y="556" width="1" height="7"/>
<rect x="194" y="556" width="1" height="6"/>
<rect x="198" y="556" width="1" height="7"/>
<rect x="202" y="556" width="1" height="9"/>
<rect x="206" y="556" width="1" height="8"/>
<rect x="210" y="554" width="1" height="1"/>
<rect x="214" y="544" width="1" height="11"/>
<rect x="218" y="539" width="1" height="16"/>
<rect x="222" y="532" width="1" height="23"/>
<rect x="226" y="524" width="1" height="31"/>
<rect x="230" y="522" width="1" height="33"/>
<rect x="234" y="517" width="1" height="38"/>
<rect x="238" y="511" width="1" height="44"/>
<rect x="242" y="509" width="1" height="46"/>
<rect x="246" y="508" width="1" height="47"/>
<rect x="250" y="507" width="1" height="48"/>
<rect x="254" y="506" width="1" height="49"/>
<rect x="258" y="506" width="1" height="49"/>
<rect x="262" y="505" width="1" height="50"/>
<rect x="266" y="504" width="1" height="51"/>
<rect x="270" y="505" width="1" height="50"/>
<rect x="274" y="504" width="1" height="51"/>
<rect x="278" y="504" width="1" height="51"/>
<rect x="282" y="503" width="1" height="52"/>
<rect x="286" y="507" width="1" height="48"/>
<rect x="290" y="506" width="1" height="49"/>
<rect x="294" y="511" width="1" height="44"/>
<rect x="298" y="515" width="1" height="40"/>
<rect x="302" y="518" width="1" height="37"/>
<rect x="306" y="518" width="1" height="37"/>
<rect x="310" y="521" width="1" height="34"/>
<rect x="314" y="522" width="1" height="33"/>
<rect x="318" y="520" width="1" height="35"/>
<rect x="322" y="516" width="1" height="39"/>
<rect x="326" y="514" width="1" height="41"/>
<rect x="330" y="516" width="1" height="39"/>
<rect x="334" y="516" width="1" height="39"/>
<rect x="338" y="516" width="1" height="39"/>
<rect x="342" y="517" width="1" height="38"/>
<rect x="346" y="517" width="1" height="38"/>
<rect x="350" y="517" width="1" height="38"/>
<rect x="354" y="517" width="1" height="38"/>
<rect x="358" y="520" width="1" height="35"/>
<rect x="362" y="524" width="1" height="31"/>
<rect x="366" y="526" width="1" height="29"/>
<rect x="370" y="530" width="1" height="25"/>
<rect x="374" y="532" width="1" height="23"/>
<rect x="378" y="534" width="1" height="21"/>
<rect x="382" y="534" width="1" height="21"/>
<rect x="386" y="534" width="1" height="21"/>
<rect x="390" y="535" width="1" height="20"/>
<rect x="394" y="541" width="1" height="14"/>
<rect x="398" y="544" width="1" height="11"/>
<rect x="402" y="549" width="1" height="6"/>
<rect x="406" y="548" width="1" height="7"/>
<rect x="410" y="549" width="1" height="6"/>
<rect x="414" y="552" width="1" height="3"/>
<rect x="418" y="552" width="1" height="3"/>
<rect x="422" y="553" width="1" height="2"/>
<rect x="426" y="552" width="1" height="3"/>
<rect x="430" y="552" width="1" height="3"/>
<rect x="434" y="554" width="1" height="1"/>
<rect x="438" y="554" width="1" height="1"/>
<rect x="450" y="556" width="1" height="4"/>
<rect x="454" y="556" width="1" height="7"/>
<rect x="458" y="556" width="1" height="11"/>
<rect x="462" y="556" width="1" height="12"/>
<rect x="466" y="556" width="1" height="11"/>
<rect x="470" y="556" width="1" height="8"/>
<rect x="474" y="556" width="1" height="8"/>
<rect x="482" y="552" width="1" height="3"/>
<rect x="486" y="549" width="1" height="6"/>
<rect x="490" y="544" width="1" height="11"/>
<rect x="494" y="543" width="1" height="12"/>
<rect x="498" y="541" width="1" height="14"/>
<rect x="502" y="541" width="1" height="14"/>
<rect x="506" y="541" width="1" height="14"/>
<rect x="510" y="542" width="1" height="13"/>
<rect x="514" y="542" width="1" height="13"/>
<rect x="518" y="544" width="1" height="11"/>
<rect x="522" y="544" width="1" height="11"/>
<rect x="526" y="544" width="1" height="11"/>
<rect x="530" y="544" width="1" height="11"/>
<rect x="534" y="546" width="1" height="9"/>
<rect x="538" y="548" width="1" height="7"/>
<rect x="542" y="551" width="1" height="4"/>
<rect x="550" y="556" width="1" height="9"/>
<rect x="554" y="556" width="1" height="13"/>
<rect x="558" y="556" width="1" height="16"/>
<rect x="562" y="556" width="1" height="17"/>
<rect x="566" y="556" width="1" height="14"/>
<rect x="570" y="556" width="1" height="11"/>
<rect x="574" y="548" width="1" height="7"/>
<rect x="578" y="534" width="1" height="21"/>
<rect x="582" y="520" width="1" height="35"/>
<rect x="586" y="508" width="1" height="47"/>
<rect x="590" y="500" width="1" height="55"/>
<rect x="594" y="494" width="1" height="61"/>
<rect x="598" y="494" width="1" height="61"/>
<rect x="602" y="495" width="1" height="60"/>
<rect x="2" y="552" width="1" height="3"/>
</g>
<polyline points="3.3,530.5 28.7,555.2 32,557.5 37.4,558.4 44,558.8 50.8,558.4 56,556 62,554.5 68,552.8 74.9,553.2 80,553.5 85.6,555.2 92,557.5 99,560.2 105.6,561.5 110.7,560.6 116.7,558.4 122,556.4 128,553.2 134,548.8 140,544 146.8,542 152.8,540 158.8,540 164,539.4 170.8,541.4 176.9,543.8 182.9,547.5 189,551 195,554 201,558 207,560.6 211.3,560.2 217.4,557.5 224,551.5 230,545.5 234.7,539.4 239,532.8 243.4,527.4 248,521.4 254,515.4 260,511 266.8,508.3 272.8,506.3 278,505.3 284,505.3 291,505.3 296,506 302,508.3 308,511 314,514 320,515.8 326,517.4 332,518.3 338.7,518.3 344.8,517.4 350.8,517.4 356,516.7 362,518.3 368,519.8 374,522 380,525 386,528 392,531 398,535 404,538 410,541 417,544 422.7,547 428.7,549.7 434.7,551.5 440.7,551.5 446.7,553.5 452.8,554.4 458.8,556 464.8,558 470.8,560.6 476,561.5 482.8,560.6 488.9,558.4 494.9,554.8 500,551 507,548 513,544.8 519,543.4 523.8,542.4 530,542.4 536.4,543.7 542.6,545.5 548.9,547.9 554.4,551.8 560.6,556 566,559.6 572.4,562.3 578.7,561.2 583.4,555.7 587.3,548.7 590.4,543.2 593.5,536.9 596,531.4 599,525 601.9,519.7" fill="none" stroke="#f00" stroke-width="1" stroke-dasharray="3 3" shape-rendering="crispEdges"/>
<text x="5.5" y="499" font-size="9.9" fill="#fff" stroke="#fff" stroke-width="0.25" textLength="148.5" lengthAdjust="spacingAndGlyphs">MACD(12,26,9) 0.001674 0.001041</text>
<g fill="#fff" shape-rendering="crispEdges">
<rect x="2" y="2" width="746" height="1" fill="#fff" />
<rect x="2" y="484" width="746" height="1" fill="#fff" />
<rect x="2" y="2" width="1" height="483" fill="#fff" />
<rect x="747" y="2" width="1" height="483" fill="#fff" />
<rect x="2" y="486" width="750" height="1" fill="#fff" />
<rect x="2" y="578" width="750" height="1" fill="#fff" />
<rect x="2" y="486" width="1" height="93" fill="#fff" />
<rect x="747" y="486" width="1" height="93" fill="#fff" />
<rect x="748" y="34" width="4" height="1" fill="#fff" />
<rect x="748" y="66" width="4" height="1" fill="#fff" />
<rect x="748" y="98" width="4" height="1" fill="#fff" />
<rect x="748" y="130" width="4" height="1" fill="#fff" />
<rect x="748" y="162" width="4" height="1" fill="#fff" />
<rect x="748" y="194" width="4" height="1" fill="#fff" />
<rect x="748" y="227" width="4" height="1" fill="#fff" />
<rect x="748" y="259" width="4" height="1" fill="#fff" />
<rect x="748" y="291" width="4" height="1" fill="#fff" />
<rect x="748" y="323" width="4" height="1" fill="#fff" />
<rect x="748" y="355" width="4" height="1" fill="#fff" />
<rect x="748" y="387" width="4" height="1" fill="#fff" />
<rect x="748" y="420" width="4" height="1" fill="#fff" />
<rect x="748" y="452" width="4" height="1" fill="#fff" />
<rect x="2" y="579" width="1" height="5" fill="#fff" />
<rect x="66" y="579" width="1" height="5" fill="#fff" />
<rect x="130" y="579" width="1" height="5" fill="#fff" />
<rect x="194" y="579" width="1" height="5" fill="#fff" />
<rect x="258" y="579" width="1" height="5" fill="#fff" />
<rect x="322" y="579" width="1" height="5" fill="#fff" />
<rect x="386" y="579" width="1" height="5" fill="#fff" />
<rect x="450" y="579" width="1" height="5" fill="#fff" />
<rect x="514" y="579" width="1" height="5" fill="#fff" />
<rect x="578" y="579" width="1" height="5" fill="#fff" />
</g>
<g font-size="9.9" fill="#fff" stroke="#fff" stroke-width="0.25">
<text x="753.2" y="38" textLength="32.4" lengthAdjust="spacingAndGlyphs">1.21180</text>
<text x="753.2" y="70" textLength="32.4" lengthAdjust="spacingAndGlyphs">1.20915</text>
<text x="753.2" y="102" textLength="32.4" lengthAdjust="spacingAndGlyphs">1.20650</text>
<text x="753.2" y="134" textLength="32.4" lengthAdjust="spacingAndGlyphs">1.20385</text>
<text x="753.2" y="166" textLength="32.4" lengthAdjust="spacingAndGlyphs">1.20120</text>
<text x="753.2" y="198" textLength="32.4" lengthAdjust="spacingAndGlyphs">1.19855</text>
<text x="753.2" y="231" textLength="32.4" lengthAdjust="spacingAndGlyphs">1.19590</text>
<text x="753.2" y="263" textLength="32.4" lengthAdjust="spacingAndGlyphs">1.19325</text>
<text x="753.2" y="295" textLength="32.4" lengthAdjust="spacingAndGlyphs">1.19060</text>
<text x="753.2" y="327" textLength="32.4" lengthAdjust="spacingAndGlyphs">1.18795</text>
<text x="753.2" y="359" textLength="32.4" lengthAdjust="spacingAndGlyphs">1.18530</text>
<text x="753.2" y="391" textLength="32.4" lengthAdjust="spacingAndGlyphs">1.18265</text>
<text x="753.2" y="424" textLength="32.4" lengthAdjust="spacingAndGlyphs">1.18000</text>
<text x="753.2" y="456" textLength="32.4" lengthAdjust="spacingAndGlyphs">1.17735</text>
<text x="753.2" y="495" textLength="37.6" lengthAdjust="spacingAndGlyphs">0.001920</text>
<text x="753.2" y="558" textLength="37.6" lengthAdjust="spacingAndGlyphs">0.000000</text>
<text x="753.2" y="577" textLength="41.2" lengthAdjust="spacingAndGlyphs">-0.000664</text>
</g>
<rect x="750" y="140" width="39" height="11" fill="#7c8da0" shape-rendering="crispEdges"/>
<text x="753.2" y="149" font-size="9.9" fill="#fff" stroke="#fff" stroke-width="0.25" textLength="32.4" lengthAdjust="spacingAndGlyphs">1.20255</text>
<rect x="750" y="2" width="39" height="11" fill="#f00" shape-rendering="crispEdges"/>
<text x="753.2" y="11" font-size="9.9" fill="#000" stroke="#000" stroke-width="0.35" textLength="32.4" lengthAdjust="spacingAndGlyphs">1.21400</text>
<rect x="750" y="28" width="39" height="11" fill="#f00" shape-rendering="crispEdges"/>
<text x="753.2" y="37" font-size="9.9" fill="#000" stroke="#000" stroke-width="0.35" textLength="32.4" lengthAdjust="spacingAndGlyphs">1.21188</text>
<rect x="750" y="55" width="39" height="11" fill="#f00" shape-rendering="crispEdges"/>
<text x="753.2" y="64" font-size="9.9" fill="#000" stroke="#000" stroke-width="0.35" textLength="32.4" lengthAdjust="spacingAndGlyphs">1.20959</text>
<rect x="750" y="82" width="39" height="11" fill="#f00" shape-rendering="crispEdges"/>
<text x="753.2" y="91" font-size="9.9" fill="#000" stroke="#000" stroke-width="0.35" textLength="32.4" lengthAdjust="spacingAndGlyphs">1.20738</text>
<rect x="750" y="110" width="39" height="11" fill="#f00" shape-rendering="crispEdges"/>
<text x="753.2" y="119" font-size="9.9" fill="#000" stroke="#000" stroke-width="0.35" textLength="32.4" lengthAdjust="spacingAndGlyphs">1.20509</text>
<rect x="750" y="134" width="39" height="11" fill="#f00" shape-rendering="crispEdges"/>
<text x="753.2" y="143" font-size="9.9" fill="#000" stroke="#000" stroke-width="0.35" textLength="32.4" lengthAdjust="spacingAndGlyphs">1.20312</text>
<rect x="750" y="160" width="39" height="11" fill="#0ff" shape-rendering="crispEdges"/>
<text x="753.2" y="169" font-size="9.9" fill="#000" stroke="#000" stroke-width="0.35" textLength="32.4" lengthAdjust="spacingAndGlyphs">1.20098</text>
<rect x="750" y="184" width="39" height="11" fill="#0ff" shape-rendering="crispEdges"/>
<text x="753.2" y="193" font-size="9.9" fill="#000" stroke="#000" stroke-width="0.35" textLength="32.4" lengthAdjust="spacingAndGlyphs">1.19898</text>
<rect x="750" y="208" width="39" height="11" fill="#0ff" shape-rendering="crispEdges"/>
<text x="753.2" y="217" font-size="9.9" fill="#000" stroke="#000" stroke-width="0.35" textLength="32.4" lengthAdjust="spacingAndGlyphs">1.19705</text>
<rect x="750" y="241" width="39" height="11" fill="#0ff" shape-rendering="crispEdges"/>
<text x="753.2" y="250" font-size="9.9" fill="#000" stroke="#000" stroke-width="0.35" textLength="32.4" lengthAdjust="spacingAndGlyphs">1.19432</text>
<rect x="750" y="260" width="39" height="11" fill="#0ff" shape-rendering="crispEdges"/>
<text x="753.2" y="269" font-size="9.9" fill="#000" stroke="#000" stroke-width="0.35" textLength="32.4" lengthAdjust="spacingAndGlyphs">1.19271</text>
<rect x="750" y="284" width="39" height="11" fill="#0ff" shape-rendering="crispEdges"/>
<text x="753.2" y="293" font-size="9.9" fill="#000" stroke="#000" stroke-width="0.35" textLength="32.4" lengthAdjust="spacingAndGlyphs">1.19074</text>
<rect x="750" y="308" width="39" height="11" fill="#0ff" shape-rendering="crispEdges"/>
<text x="753.2" y="317" font-size="9.9" fill="#000" stroke="#000" stroke-width="0.35" textLength="32.4" lengthAdjust="spacingAndGlyphs">1.18877</text>
<rect x="750" y="329" width="39" height="11" fill="#0ff" shape-rendering="crispEdges"/>
<text x="753.2" y="338" font-size="9.9" fill="#000" stroke="#000" stroke-width="0.35" textLength="32.4" lengthAdjust="spacingAndGlyphs">1.18708</text>
<rect x="750" y="349" width="39" height="11" fill="#0ff" shape-rendering="crispEdges"/>
<text x="753.2" y="358" font-size="9.9" fill="#000" stroke="#000" stroke-width="0.35" textLength="32.4" lengthAdjust="spacingAndGlyphs">1.18540</text>
<rect x="750" y="368" width="39" height="11" fill="#0ff" shape-rendering="crispEdges"/>
<text x="753.2" y="377" font-size="9.9" fill="#000" stroke="#000" stroke-width="0.35" textLength="32.4" lengthAdjust="spacingAndGlyphs">1.18388</text>
<rect x="750" y="390" width="39" height="11" fill="#0ff" shape-rendering="crispEdges"/>
<text x="753.2" y="399" font-size="9.9" fill="#000" stroke="#000" stroke-width="0.35" textLength="32.4" lengthAdjust="spacingAndGlyphs">1.18207</text>
<rect x="750" y="419" width="39" height="11" fill="#0ff" shape-rendering="crispEdges"/>
<text x="753.2" y="428" font-size="9.9" fill="#000" stroke="#000" stroke-width="0.35" textLength="32.4" lengthAdjust="spacingAndGlyphs">1.17967</text>
<rect x="750" y="446" width="39" height="11" fill="#0ff" shape-rendering="crispEdges"/>
<text x="753.2" y="455" font-size="9.9" fill="#000" stroke="#000" stroke-width="0.35" textLength="32.4" lengthAdjust="spacingAndGlyphs">1.17741</text>
<rect x="750" y="470" width="39" height="11" fill="#0ff" shape-rendering="crispEdges"/>
<text x="753.2" y="479" font-size="9.9" fill="#000" stroke="#000" stroke-width="0.35" textLength="32.4" lengthAdjust="spacingAndGlyphs">1.17543</text>
<g font-size="9.9" fill="#fff" stroke="#fff" stroke-width="0.25">
<text x="2.3" y="592" textLength="44.8" lengthAdjust="spacingAndGlyphs">9 Apr 2021</text>
<text x="66.6" y="592" textLength="52.8" lengthAdjust="spacingAndGlyphs">12 Apr 00:00</text>
<text x="130.6" y="592" textLength="52.8" lengthAdjust="spacingAndGlyphs">12 Apr 16:00</text>
<text x="194.6" y="592" textLength="52.8" lengthAdjust="spacingAndGlyphs">13 Apr 08:00</text>
<text x="258.6" y="592" textLength="52.8" lengthAdjust="spacingAndGlyphs">14 Apr 00:00</text>
<text x="322.6" y="592" textLength="52.8" lengthAdjust="spacingAndGlyphs">14 Apr 16:00</text>
<text x="386.6" y="592" textLength="52.8" lengthAdjust="spacingAndGlyphs">15 Apr 08:00</text>
<text x="450.6" y="592" textLength="52.8" lengthAdjust="spacingAndGlyphs">16 Apr 00:00</text>
<text x="514.6" y="592" textLength="52.8" lengthAdjust="spacingAndGlyphs">16 Apr 16:00</text>
<text x="578.6" y="592" textLength="52.8" lengthAdjust="spacingAndGlyphs">19 Apr 08:00</text>
</g>
</svg></body></html>
